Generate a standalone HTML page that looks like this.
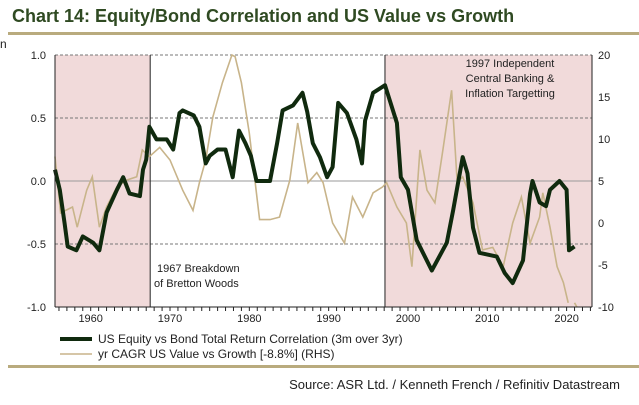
<!DOCTYPE html>
<html><head><meta charset="utf-8"><style>
body{margin:0;background:#fff;width:639px;height:400px;overflow:hidden;font-family:"Liberation Sans",sans-serif}
</style></head><body>
<svg id="c" width="639" height="400" xmlns="http://www.w3.org/2000/svg" font-family="Liberation Sans, sans-serif">
<text x="12" y="22" font-size="18" font-weight="bold" fill="#2f4a22">Chart 14: Equity/Bond Correlation and US Value vs Growth</text>
<rect x="8" y="32" width="631" height="3" fill="#b9ab7e"/>
<text x="0" y="48" font-size="12" fill="#222">n</text>
<g id="plot"></g>
<g>
<line x1="60" y1="339" x2="92" y2="339" stroke="#102a0e" stroke-width="4"/>
<text x="98" y="343" font-size="12" fill="#222">US Equity vs Bond Total Return Correlation (3m over 3yr)</text>
<line x1="60" y1="354" x2="92" y2="354" stroke="#c8b48a" stroke-width="1.5"/>
<text x="98" y="358" font-size="12" fill="#222">yr CAGR US Value vs Growth [-8.8%] (RHS)</text>
</g>
<rect x="8" y="365" width="631" height="3" fill="#b9ab7e"/>
<text x="620" y="389" font-size="13" text-anchor="end" fill="#222">Source: ASR Ltd. / Kenneth French / Refinitiv Datastream</text>
</svg>
<script>
const corrYears=[1955.5,1956.1,1956.7,1957.1,1958.2,1959,1960.3,1961.1,1962,1963.3,1964.1,1964.9,1966.2,1966.6,1967,1967.4,1968.3,1969.6,1970.4,1971.2,1971.6,1973,1973.7,1974.5,1975,1976,1977,1977.9,1978.7,1979.5,1980.2,1980.9,1982.6,1983.5,1984.2,1985.5,1986.7,1987.3,1988,1988.9,1989.8,1990.5,1991.2,1992.3,1993.5,1994.2,1994.6,1995.6,1997.1,1998.6,1999.1,2000,2001.1,2003,2004.9,2005.7,2006.9,2007.5,2008.2,2009,2011.2,2012.2,2013.2,2014.5,2015.4,2015.7,2016.6,2017.4,2017.9,2019.1,2020,2020.3,2021];
const corrValues=[0.09,-0.07,-0.33,-0.52,-0.55,-0.44,-0.49,-0.55,-0.25,-0.07,0.03,-0.1,-0.12,0.09,0.17,0.43,0.33,0.33,0.25,0.54,0.56,0.52,0.43,0.14,0.2,0.25,0.25,0.03,0.4,0.3,0.2,0.0,0.0,0.3,0.56,0.6,0.7,0.55,0.3,0.19,0.03,0.11,0.62,0.54,0.33,0.14,0.48,0.7,0.76,0.46,0.03,-0.07,-0.47,-0.71,-0.49,-0.23,0.19,0.06,-0.37,-0.57,-0.6,-0.73,-0.81,-0.63,-0.1,0,-0.17,-0.2,-0.07,0,-0.07,-0.55,-0.52];
const vgYears=[1955.5,1956.2,1957.7,1958.3,1959.5,1960.2,1961.1,1962,1963.3,1964.5,1965.8,1966.5,1967.4,1968.7,1970,1971.6,1972.9,1973.7,1974.5,1975.4,1976.6,1977.8,1978.2,1979,1980,1981.3,1982.6,1983.8,1985.1,1986.1,1987.4,1988.5,1989.3,1990.5,1992,1993,1994.3,1995.6,1996.8,1997.3,1998.6,1999.8,2000.5,2001.5,2002.4,2003.4,2004.4,2005.5,2006.2,2006.9,2008.2,2009.4,2010.7,2012,2013.2,2014.3,2015.4,2016.6,2017,2017.9,2018.8,2019.6,2020.2];
const vgValues=[7.9,1.2,1.9,-0.5,3.9,5.5,-0.5,1.9,4.3,5.1,5.5,8.7,7.9,9.0,7.5,3.9,1.5,4.8,7.5,12.6,16.7,20,19.8,16.7,10.7,0.4,0.4,0.7,5.1,11.9,4.8,6.0,4.8,0,-2.4,3.1,0.7,3.6,4.3,4.8,1.9,0,-5.2,8.7,3.9,2.4,8.7,15.8,4.8,5.5,2.4,-3.2,-2.9,-5.2,0,3.1,-2.4,0.7,3.6,-0.5,-5.2,-7.1,-9.5];
const vgTailYears=[2021,2021.3];
const vgTailValues=[-9.5,-10];
const leftTicks=[1.0,0.5,0.0,-0.5,-1.0];
const rightTicks=[20,15,10,5,0,-5,-10];
const yearTicks=[1960,1970,1980,1990,2000,2010,2020];

const L=55,R=592,T=55,B=307,Y0=1955.5,Y1=2023.2;
const x=v=>L+(v-Y0)/(Y1-Y0)*(R-L);
const yl=v=>T+(1-v)/2*(B-T);
const yr=v=>T+(20-v)/30*(B-T);
const NS='http://www.w3.org/2000/svg';
const g=document.getElementById('plot');
function mk(t,a){const e=document.createElementNS(NS,t);for(const k in a)e.setAttribute(k,a[k]);g.appendChild(e);return e;}
let e;
e=mk('rect',{x:L,y:T,width:x(1967.5)-L,height:B-T,fill:'#f1dada'});


e=mk('rect',{x:x(1997.1),y:T,width:R-x(1997.1),height:B-T,fill:'#f1dada'});


leftTicks.forEach(v=>{
 if(v!==1&&v!==-1){e=mk('line',{x1:L,x2:R,y1:yl(v),y2:yl(v),stroke:v===0?'#9a9a9a':'#777','stroke-width':1,'stroke-dasharray':v===0?'':'3,2'});
 
 }
 e=mk('text',{x:46,y:yl(v)+4,'font-size':11,'text-anchor':'end',fill:'#222'});e.textContent=v.toFixed(1);
 
 
});
e=mk('line',{x1:L,x2:R,y1:T,y2:T,stroke:'#777','stroke-dasharray':'3,2'});


rightTicks.forEach(v=>{
 e=mk('text',{x:598,y:yr(v)+4,'font-size':11,fill:'#222'});e.textContent=v;
 
 
});
[1967.5,1997.1].forEach(v=>{e=mk('line',{x1:x(v),x2:x(v),y1:T,y2:B,stroke:'#222','stroke-width':1});
 
 });
function path(xs,vs,f){return xs.map((a,i)=>(i?'L':'M')+x(a).toFixed(1)+','+f(vs[i]).toFixed(1)).join('');}
e=mk('path',{d:path(vgYears,vgValues,yr),fill:'none',stroke:'#c8b48a','stroke-width':1.6});


e=mk('path',{d:path(vgTailYears,vgTailValues,yr),fill:'none',stroke:'#c8b48a','stroke-width':1.6});


e=mk('path',{d:path(corrYears,corrValues,yl),fill:'none',stroke:'#102a0e','stroke-width':4,'stroke-linejoin':'round'});


e=mk('line',{x1:L,x2:L,y1:T,y2:B,stroke:'#222'});


e=mk('line',{x1:R,x2:R,y1:T,y2:B,stroke:'#222'});


e=mk('line',{x1:L,x2:R,y1:B,y2:B,stroke:'#222'});


for(let yy=1956;yy<=2023;yy++){e=mk('line',{x1:x(yy),x2:x(yy),y1:B,y2:B+4,stroke:'#222'});
 
 }
yearTicks.forEach(v=>{e=mk('text',{x:x(v),y:B+15,'font-size':11,'text-anchor':'middle',fill:'#222'});e.textContent=v;
 
 });
[['1967 Breakdown',157,272,'start'],['of Bretton Woods',154,287,'start'],['1997 Independent',510,67,'middle'],['Central Banking &',510,82,'middle'],['Inflation Targetting',510,97,'middle']].forEach(a=>{
 e=mk('text',{x:a[1],y:a[2],'font-size':11,'text-anchor':a[3],fill:'#222'});e.textContent=a[0];
 
 
});
</script>
</body></html>
